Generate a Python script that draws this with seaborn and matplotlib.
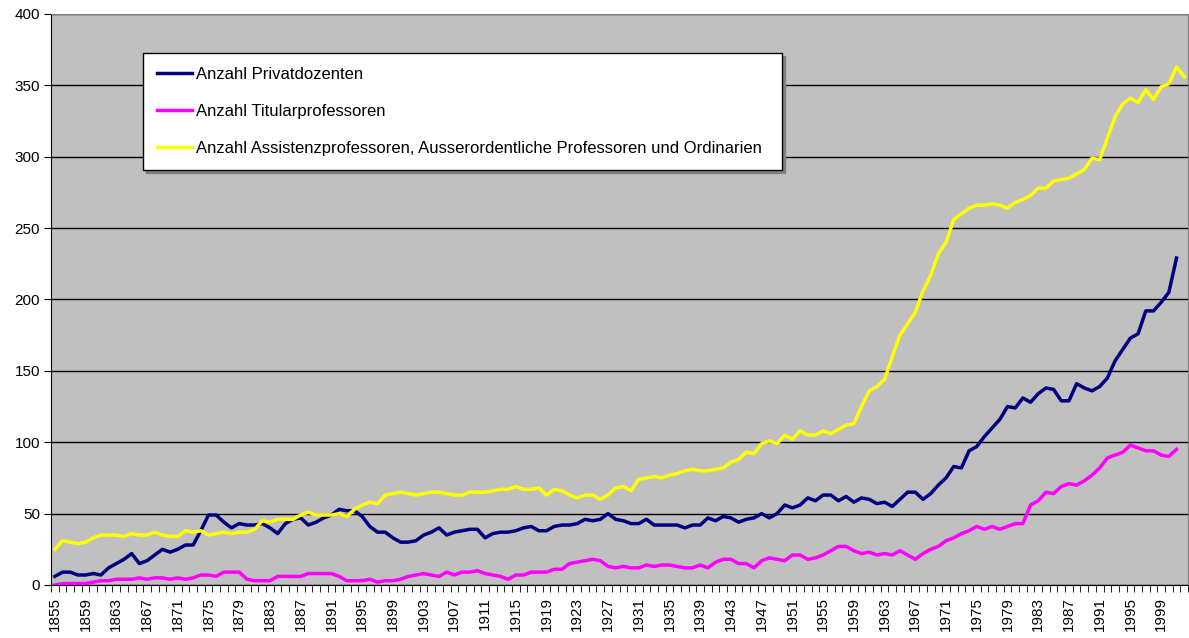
import numpy as np
import pandas as pd
import matplotlib
matplotlib.use("Agg")
import matplotlib.pyplot as plt
from matplotlib.lines import Line2D
import seaborn as sns

# values, one per year
years = list(range(1855, 2003))

privatdozenten = [
    6, 9, 9, 7, 7, 8, 7, 12, 15, 18,
    22, 15, 17, 21, 25, 23, 25, 28, 28, 38,
    49, 49, 44, 40, 43, 42, 42, 43, 40, 36,
    43, 46, 47, 42, 44, 47, 49, 53, 52, 52,
    48, 41, 37, 37, 33, 30, 30, 31, 35, 37,
    40, 35, 37, 38, 39, 39, 33, 36, 37, 37,
    38, 40, 41, 38, 38, 41, 42, 42, 43, 46,
    45, 46, 50, 46, 45, 43, 43, 46, 42, 42,
    42, 42, 40, 42, 42, 47, 45, 48, 47, 44,
    46, 47, 50, 47, 50, 56, 54, 56, 61, 59,
    63, 63, 59, 62, 58, 61, 60, 57, 58, 55,
    60, 65, 65, 60, 64, 70, 75, 83, 82, 94,
    97, 104, 110, 116, 125, 124, 131, 128, 134, 138,
    137, 129, 129, 141, 138, 136, 139, 145, 157, 165,
    173, 176, 192, 192, 198, 205, 229,
]

titularprofessoren = [
    0, 1, 1, 1, 1, 2, 3, 3, 4, 4,
    4, 5, 4, 5, 5, 4, 5, 4, 5, 7,
    7, 6, 9, 9, 9, 4, 3, 3, 3, 6,
    6, 6, 6, 8, 8, 8, 8, 6, 3, 3,
    3, 4, 2, 3, 3, 4, 6, 7, 8, 7,
    6, 9, 7, 9, 9, 10, 8, 7, 6, 4,
    7, 7, 9, 9, 9, 11, 11, 15, 16, 17,
    18, 17, 13, 12, 13, 12, 12, 14, 13, 14,
    14, 13, 12, 12, 14, 12, 16, 18, 18, 15,
    15, 12, 17, 19, 18, 17, 21, 21, 18, 19,
    21, 24, 27, 27, 24, 22, 23, 21, 22, 21,
    24, 21, 18, 22, 25, 27, 31, 33, 36, 38,
    41, 39, 41, 39, 41, 43, 43, 56, 59, 65,
    64, 69, 71, 70, 73, 77, 82, 89, 91, 93,
    98, 96, 94, 94, 91, 90, 95,
]

professoren = [
    25, 31, 30, 29, 30, 33, 35, 35, 35, 34,
    36, 35, 35, 37, 35, 34, 34, 38, 37, 38,
    35, 36, 37, 36, 37, 37, 39, 45, 44, 46,
    46, 46, 49, 51, 49, 49, 49, 50, 48, 53,
    56, 58, 57, 63, 64, 65, 64, 63, 64, 65,
    65, 64, 63, 63, 65, 65, 65, 66, 67, 67,
    69, 67, 67, 68, 63, 67, 66, 63, 61, 63,
    63, 60, 63, 68, 69, 66, 74, 75, 76, 75,
    77, 78, 80, 81, 80, 80, 81, 82, 86, 88,
    93, 92, 99, 101, 99, 105, 102, 108, 105, 105,
    108, 106, 109, 112, 113, 125, 136, 139, 144, 160,
    175, 183, 191, 206, 217, 232, 240, 256, 260, 264,
    266, 266, 267, 266, 264, 268, 270, 273, 278, 278,
    283, 284, 285, 288, 291, 299, 298, 313, 328, 337,
    341, 338, 347, 340, 349, 351, 363, 356,
]

labels = [
    "Anzahl Privatdozenten",
    "Anzahl Titularprofessoren",
    "Anzahl Assistenzprofessoren, Ausserordentliche Professoren und Ordinarien",
]
colors = ["#000080", "#FF00FF", "#FFFF00"]

frames = []
for name, vals in zip(labels, [privatdozenten, titularprofessoren, professoren]):
    frames.append(pd.DataFrame({"Jahr": years[:len(vals)], "Anzahl": vals, "Reihe": name}))
df = pd.concat(frames, ignore_index=True)

plt.rcParams["font.family"] = ["Liberation Sans", "DejaVu Sans"]

fig = plt.figure(figsize=(11.89, 6.38), dpi=100)
ax = fig.add_axes([0.0429, 0.0831, 0.9563, 0.895])
ax.set_facecolor("#C0C0C0")

sns.lineplot(data=df, x="Jahr", y="Anzahl", hue="Reihe", hue_order=labels,
             palette=colors, linewidth=2.5, ax=ax, legend=False)

ax.set_xlim(1854.5, 2002.5)
ax.set_ylim(0, 400)
ax.set_xlabel("")
ax.set_ylabel("")

# horizontal grid
ax.set_yticks(range(0, 401, 50))
ax.yaxis.grid(True, color="black", linewidth=1)
ax.set_axisbelow(True)
ax.tick_params(axis="y", length=5, direction="out", labelsize=11, pad=3)

# year labels every 4 years, tick marks between years
ax.set_xticks(years[::4])
ax.set_xticklabels([str(y) for y in years[::4]], rotation=90)
ax.set_xticks(np.arange(1854.5, 2003, 1), minor=True)
ax.tick_params(axis="x", which="major", length=0, labelsize=11, pad=9)
ax.tick_params(axis="x", which="minor", length=5, direction="out")

for side in ["left", "bottom"]:
    ax.spines[side].set_color("black")
for side in ["top", "right"]:
    ax.spines[side].set_color("#808080")

handles = [Line2D([0], [0], color=c, linewidth=2.5) for c in colors]
leg = ax.legend(handles, labels, loc="upper left", bbox_to_anchor=(0.081, 0.932, 0.562, 0.0),
                mode="expand", fontsize=12, frameon=True, fancybox=False,
                edgecolor="black", facecolor="white", framealpha=1,
                shadow={"color": "#808080", "alpha": 1},
                labelspacing=1.32, borderpad=0.85, handlelength=2.1, handletextpad=0.25,
                borderaxespad=0)
leg.get_frame().set_linewidth(1)

fig.savefig("out.png", dpi=100)
